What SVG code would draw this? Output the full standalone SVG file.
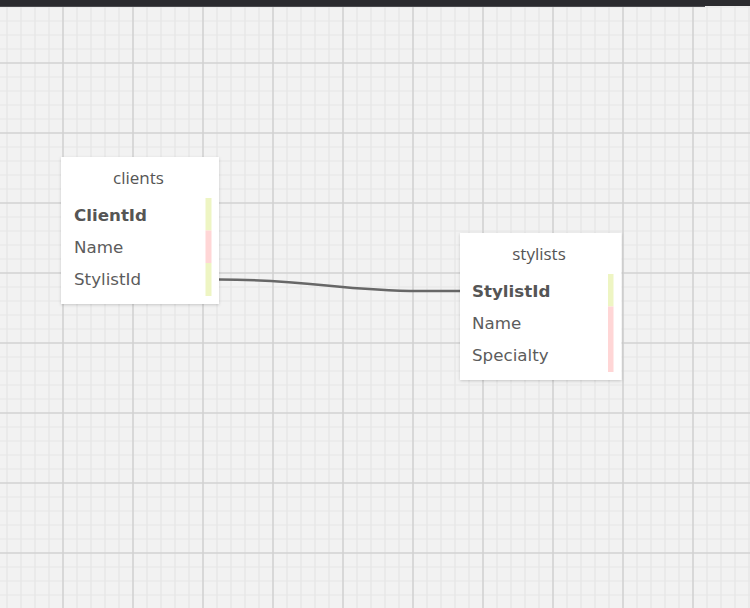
<svg xmlns="http://www.w3.org/2000/svg" width="750" height="608" viewBox="0 0 750 608">
  <defs>
    <pattern id="grid" patternUnits="userSpaceOnUse" x="62" y="62" width="70" height="70">
      <rect width="70" height="70" fill="#f2f2f2"/>
      <g stroke="#e6e6e6" stroke-width="1.2">
        <path d="M15 0V70M29 0V70M43 0V70M57 0V70M0 15H70M0 29H70M0 43H70M0 57H70"/>
      </g>
      <g stroke="#d2d2d2" stroke-width="1.6">
        <path d="M1 0V70M0 1H70"/>
      </g>
    </pattern>
    <filter id="shadow" x="-10%" y="-10%" width="120%" height="120%">
      <feDropShadow dx="0" dy="1" stdDeviation="1.5" flood-color="#000" flood-opacity="0.18"/>
    </filter>
  </defs>
  <style>
    .box { fill: #ffffff; filter: url(#shadow); }
    .title { font-family: "Open Sans", "DejaVu Sans", sans-serif; font-size: 17px; fill: #555555; text-anchor: middle; }
    .row { font-family: "DejaVu Sans", sans-serif; font-size: 16.7px; fill: #5c5c5c; }
    .key { font-weight: bold; fill: #555555; }
    .fk { fill: #eef5c3; }
    .plain { fill: #ffd6d6; }
    .link { fill: none; stroke: #676767; stroke-width: 2.5; }
  </style>
  <rect width="750" height="608" fill="url(#grid)"/>
  <rect x="0" y="0" width="750" height="6" fill="#2b2b2f"/>
  <rect x="0" y="6" width="705" height="1" fill="#4a4a4e"/>

  <g id="connectors">
    <path class="link" d="M219 279.5 C 310 279.5, 340 291, 420 291 L 460 291"/>
  </g>

  <g id="clients">
    <rect class="box" x="61" y="157" width="158" height="147"/>
    <text class="title" x="138.5" y="184">clients</text>
    <rect class="fk" x="205.5" y="198" width="6" height="32.5"/>
    <rect class="plain" x="205.5" y="230.5" width="6" height="32.5"/>
    <rect class="fk" x="205.5" y="263" width="6" height="33"/>
    <text class="row key" x="74" y="220.5">ClientId</text>
    <text class="row" x="74" y="252.5">Name</text>
    <text class="row" x="74" y="284.5">StylistId</text>
  </g>

  <g id="stylists">
    <rect class="box" x="460" y="233" width="161.5" height="147"/>
    <text class="title" x="539" y="260">stylists</text>
    <rect class="fk" x="608" y="274" width="5.5" height="32.5"/>
    <rect class="plain" x="608" y="306.5" width="5.5" height="32.5"/>
    <rect class="plain" x="608" y="339" width="5.5" height="33"/>
    <text class="row key" x="472" y="296.5">StylistId</text>
    <text class="row" x="472" y="328.5">Name</text>
    <text class="row" x="472" y="360.5">Specialty</text>
  </g>
</svg>
